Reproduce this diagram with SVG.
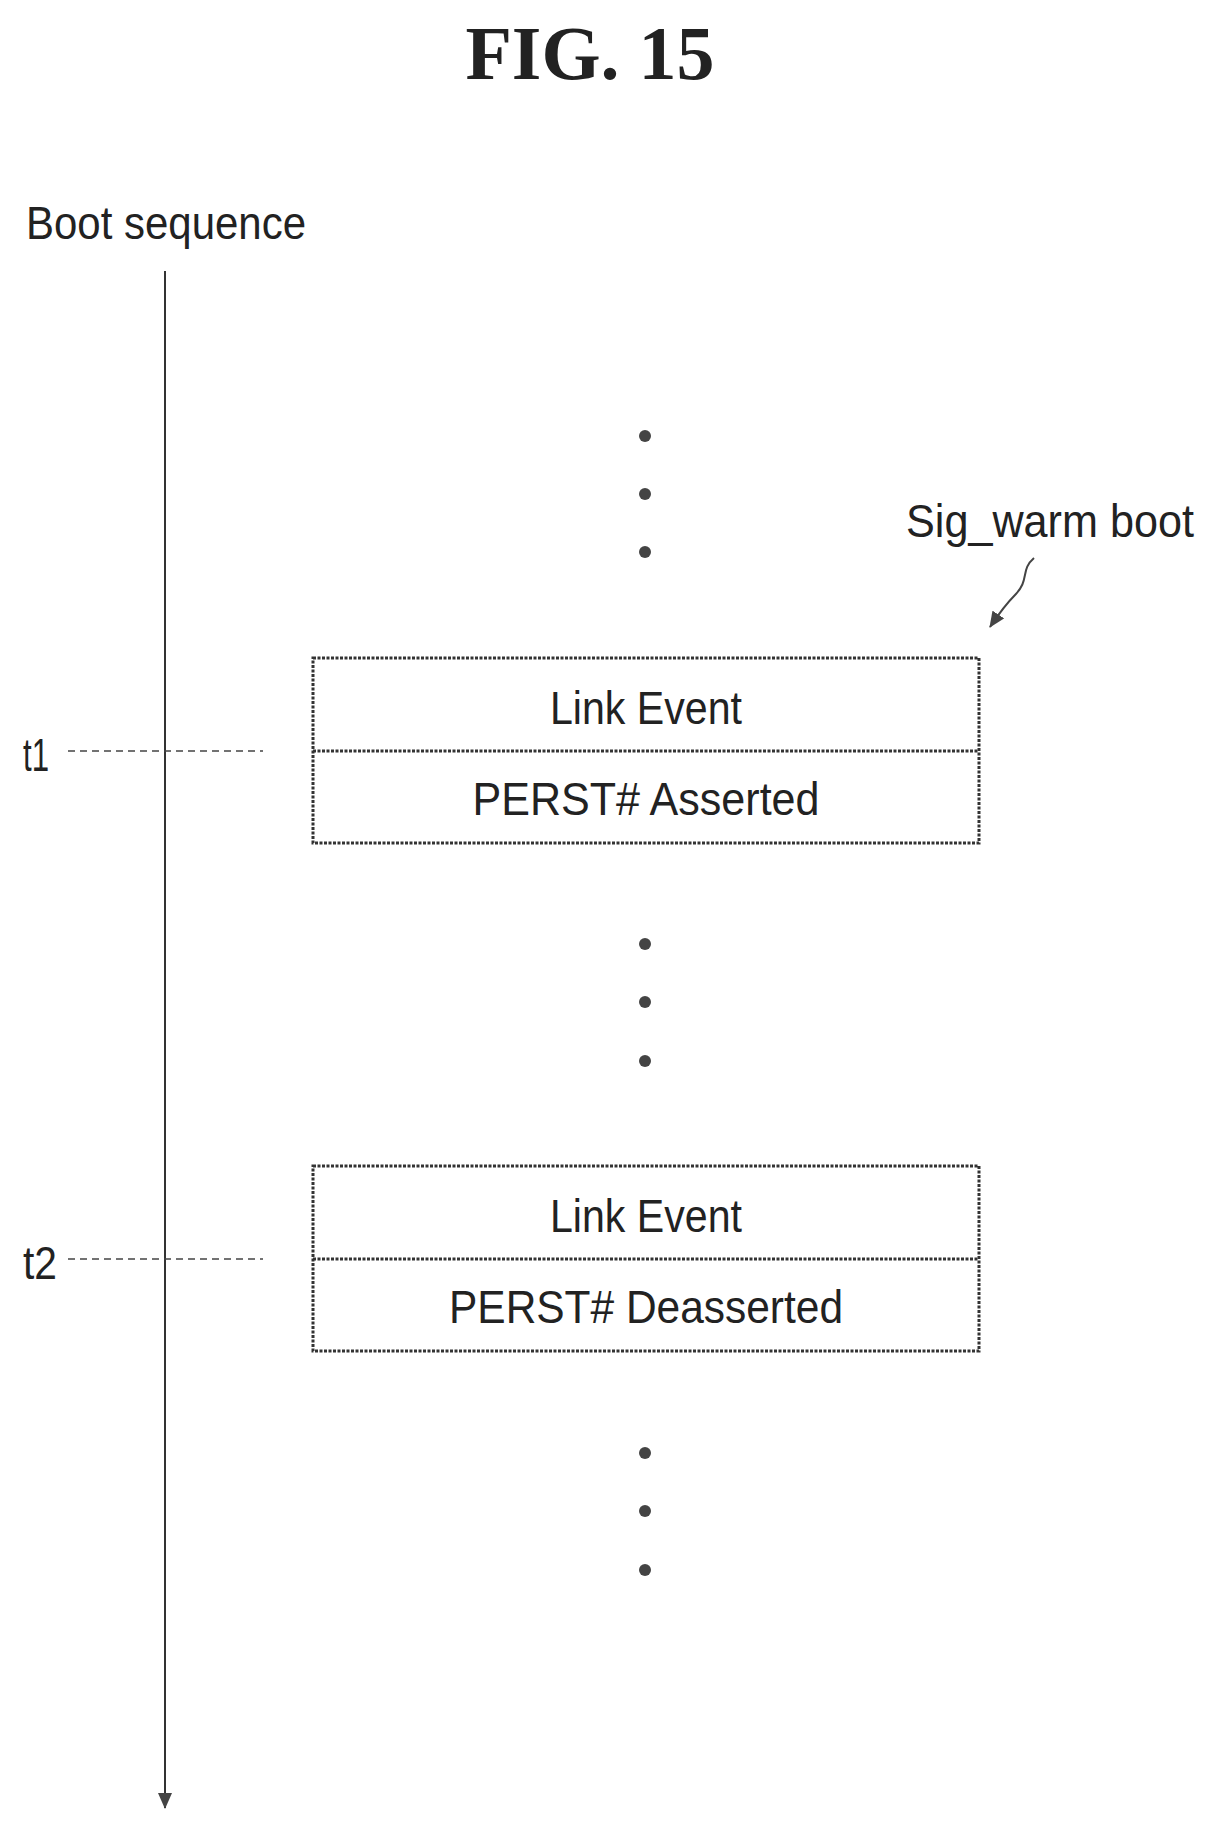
<svg xmlns="http://www.w3.org/2000/svg" width="1218" height="1838" viewBox="0 0 1218 1838">
<style>
text{font-family:"Liberation Sans",Arial,sans-serif;fill:#222;}
.l{font-size:46px;}
.box{fill:none;stroke:#333;stroke-width:3;stroke-dasharray:3 1.5;}
.dash{stroke:#444;stroke-width:1.5;stroke-dasharray:7 5;}
</style>
<defs>
<marker id="ah2" markerWidth="16" markerHeight="14" refX="15" refY="7" orient="auto" markerUnits="userSpaceOnUse">
<path d="M0,0 L16,7 L0,14 Z" fill="#444"/>
</marker>
</defs>
<text x="590" y="79" text-anchor="middle" style="font-family:'Liberation Serif',serif;font-weight:bold;font-size:76px">FIG. 15</text>
<text class="l" x="26" y="239" textLength="280" lengthAdjust="spacingAndGlyphs">Boot sequence</text>
<g id="connectors">
<line x1="165" y1="271" x2="165" y2="1808" stroke="#333" stroke-width="2" marker-end="url(#ah2)"/>
<line class="dash" x1="68" y1="751" x2="263" y2="751"/>
<line class="dash" x1="68" y1="1259" x2="263" y2="1259"/>
<path d="M1034,558 C1020,570 1030,580 1015,595 C1005,605 998,615 990,627" fill="none" stroke="#444" stroke-width="2" marker-end="url(#ah2)"/>
</g>
<g id="dots" fill="#444">
<circle cx="645" cy="436" r="6"/><circle cx="645" cy="494" r="6"/><circle cx="645" cy="552" r="6"/>
<circle cx="645" cy="944" r="6"/><circle cx="645" cy="1002" r="6"/><circle cx="645" cy="1061" r="6"/>
<circle cx="645" cy="1453" r="6"/><circle cx="645" cy="1511" r="6"/><circle cx="645" cy="1570" r="6"/>
</g>
<text class="l" x="906" y="537" textLength="288" lengthAdjust="spacingAndGlyphs">Sig_warm boot</text>
<g id="t1"><text class="l" x="23" y="771" textLength="26" lengthAdjust="spacingAndGlyphs">t1</text></g>
<g id="t2"><text class="l" x="23" y="1279" textLength="34" lengthAdjust="spacingAndGlyphs">t2</text></g>
<g id="box1">
<rect class="box" x="313" y="658" width="666" height="185"/>
<line class="box" x1="313" y1="751" x2="979" y2="751"/>
<text class="l" x="646" y="724" text-anchor="middle" textLength="192" lengthAdjust="spacingAndGlyphs">Link Event</text>
<text class="l" x="646" y="815" text-anchor="middle" textLength="347" lengthAdjust="spacingAndGlyphs">PERST# Asserted</text>
</g>
<g id="box2">
<rect class="box" x="313" y="1166" width="666" height="185"/>
<line class="box" x1="313" y1="1259" x2="979" y2="1259"/>
<text class="l" x="646" y="1232" text-anchor="middle" textLength="192" lengthAdjust="spacingAndGlyphs">Link Event</text>
<text class="l" x="646" y="1323" text-anchor="middle" textLength="394" lengthAdjust="spacingAndGlyphs">PERST# Deasserted</text>
</g>
</svg>
